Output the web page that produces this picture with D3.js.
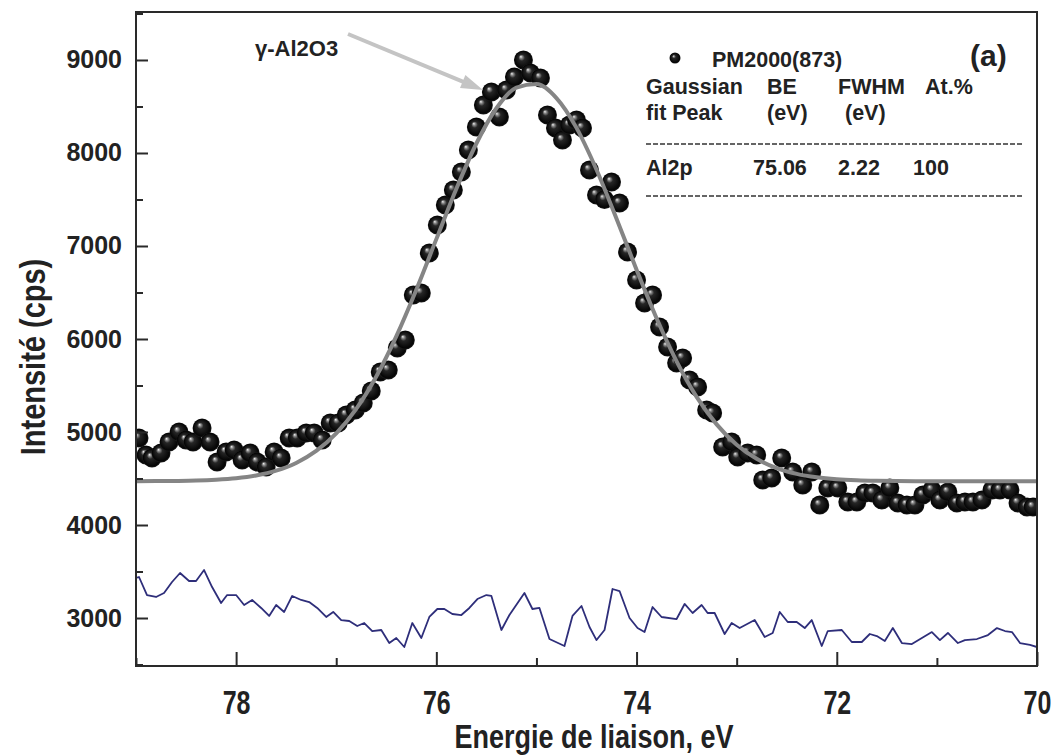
<!DOCTYPE html>
<html lang="fr">
<head>
<meta charset="UTF-8">
<title>Al2p - PM2000(873)</title>
<style>
  html, body { margin: 0; padding: 0; background: #fff; }
  svg { display: block; font-family: "Liberation Sans", Arial, sans-serif; }
  .axis path, .axis line { stroke: #2a2a2a; stroke-width: 2px; }
  .axis text { fill: #222; font-weight: bold; }
  .tbl { font-size: 21.5px; font-weight: bold; fill: #222; }
</style>
</head>
<body>
<svg width="1056" height="755"></svg>
<script src="https://d3js.org/d3.v7.min.js"></script>
<script>
// measured spectrum (dots)
const bindingEnergy = [
  78.97, 78.90, 78.84, 78.75, 78.67, 78.57, 78.50, 78.43, 78.34, 78.26,
  78.19, 78.10, 78.02, 77.94, 77.86, 77.79, 77.70, 77.62, 77.55, 77.47,
  77.39, 77.30, 77.22, 77.14, 77.06, 76.98, 76.90, 76.81, 76.73, 76.65,
  76.56, 76.48, 76.39, 76.31, 76.23, 76.15, 76.07, 75.99, 75.91, 75.83,
  75.75, 75.68, 75.60, 75.53, 75.45, 75.37, 75.30, 75.22, 75.13, 75.06,
  74.96, 74.89, 74.81, 74.74, 74.67, 74.60, 74.54, 74.47, 74.40, 74.32,
  74.25, 74.17, 74.09, 74.00, 73.92, 73.84, 73.77, 73.69, 73.60, 73.54,
  73.47, 73.39, 73.30, 73.24, 73.14, 73.05, 72.99, 72.89, 72.80, 72.74,
  72.65, 72.55, 72.44, 72.34, 72.25, 72.17, 72.09, 71.99, 71.89, 71.80,
  71.72, 71.64, 71.55, 71.47, 71.39, 71.30, 71.22, 71.14, 71.05, 70.97,
  70.89, 70.80, 70.72, 70.64, 70.55, 70.45, 70.37, 70.27, 70.19, 70.10, 70.04
];
const intensity = [
  4935, 4753, 4720, 4774, 4892, 5000, 4914, 4892, 5043, 4892,
  4677, 4785, 4806, 4699, 4774, 4677, 4624, 4785, 4720, 4935,
  4935, 4989, 4989, 4914, 5097, 5097, 5183, 5237, 5312, 5441,
  5645, 5667, 5903, 5989, 6473, 6495, 6925, 7226, 7441, 7602,
  7796, 8032, 8280, 8516, 8656, 8387, 8677, 8817, 9000, 8860,
  8806, 8409, 8269, 8140, 8300, 8355, 8269, 7817, 7548, 7500,
  7688, 7462, 6935, 6634, 6387, 6473, 6129, 5914, 5742, 5796,
  5560, 5484, 5237, 5204, 4839, 4892, 4731, 4774, 4753, 4484,
  4505, 4720, 4570, 4430, 4570, 4215, 4398, 4398, 4247, 4247,
  4344, 4344, 4269, 4398, 4237, 4215, 4215, 4323, 4376, 4269,
  4355, 4237, 4247, 4247, 4269, 4376, 4376, 4376, 4237, 4194, 4194
];

// gaussian fit curve (grey line)
const fitEnergy = [
  79.0, 78.8, 78.6, 78.4, 78.2, 78.0, 77.8, 77.6, 77.4, 77.2,
  77.0, 76.8, 76.6, 76.4, 76.2, 76.0, 75.8, 75.6, 75.4, 75.2,
  75.0, 74.8, 74.6, 74.4, 74.2, 74.0, 73.8, 73.6, 73.4, 73.2,
  73.0, 72.8, 72.6, 72.4, 72.2, 72.0, 71.8, 71.6, 71.4, 71.2,
  71.0, 70.8, 70.6, 70.4, 70.2, 70.0
];
const fitIntensity = [
  4471, 4472, 4474, 4478, 4487, 4503, 4533, 4584, 4667, 4796,
  4985, 5249, 5597, 6029, 6530, 7074, 7615, 8102, 8481, 8703,
  8741, 8590, 8270, 7820, 7294, 6745, 6223, 5760, 5378, 5082,
  4863, 4712, 4612, 4550, 4513, 4492, 4481, 4475, 4472, 4471,
  4470, 4470, 4470, 4470, 4470, 4470
];

// residual trace (blue line)
const residualEnergy = [
  79.00, 78.97, 78.89, 78.80, 78.72, 78.64, 78.56, 78.47, 78.40, 78.32,
  78.24, 78.15, 78.09, 78.00, 77.92, 77.84, 77.75, 77.67, 77.60, 77.52,
  77.44, 77.35, 77.27, 77.19, 77.10, 77.03, 76.95, 76.87, 76.79, 76.72,
  76.64, 76.55, 76.47, 76.40, 76.32, 76.24, 76.15, 76.07, 75.99, 75.92,
  75.84, 75.75, 75.67, 75.59, 75.50, 75.45, 75.35, 75.27, 75.12, 75.04,
  74.97, 74.87, 74.72, 74.64, 74.55, 74.47, 74.40, 74.32, 74.24, 74.17,
  74.07, 73.99, 73.92, 73.84, 73.75, 73.60, 73.52, 73.44, 73.35, 73.29,
  73.22, 73.12, 73.05, 72.97, 72.82, 72.72, 72.64, 72.57, 72.49, 72.40,
  72.32, 72.25, 72.15, 72.09, 71.95, 71.85, 71.75, 71.67, 71.60, 71.52,
  71.44, 71.35, 71.25, 71.15, 71.05, 70.97, 70.89, 70.79, 70.72, 70.60,
  70.49, 70.40, 70.32, 70.25, 70.17, 70.07, 70.00
];
const residual = [
  3430, 3441, 3247, 3226, 3269, 3387, 3484, 3398, 3398, 3516,
  3333, 3161, 3247, 3247, 3140, 3194, 3108, 3022, 3140, 3065,
  3237, 3194, 3172, 3108, 3011, 3065, 2978, 2968, 2914, 2946,
  2860, 2871, 2731, 2785, 2688, 2946, 2785, 3011, 3097, 3097,
  3043, 3032, 3108, 3204, 3247, 3237, 2871, 3032, 3269, 3097,
  3108, 2774, 2699, 3022, 3129, 2903, 2763, 2871, 3312, 3290,
  3000, 2892, 2849, 3118, 3011, 2989, 3151, 3054, 3140, 3054,
  3054, 2828, 2946, 2892, 2978, 2796, 2839, 3065, 2957, 2957,
  2892, 2978, 2699, 2860, 2871, 2742, 2742, 2828, 2806, 2753,
  2892, 2731, 2720, 2785, 2849, 2763, 2839, 2731, 2763, 2774,
  2817, 2892, 2860, 2849, 2731, 2710, 2688
];

const xTicks = [78, 76, 74, 72, 70];
const xMinorTicks = [79, 77, 75, 73, 71];
const yTicks = [3000, 4000, 5000, 6000, 7000, 8000, 9000];
const yMinorTicks = [2500, 3500, 4500, 5500, 6500, 7500, 8500, 9500];

const seriesName = "PM2000(873)";
const peakLabel = "γ-Al2O3";
const panelTag = "(a)";
const tableHead1 = ["Gaussian", "BE", "FWHM", "At.%"];
const tableHead2 = ["fit Peak", "(eV)", "(eV)"];
const tableRow = ["Al2p", "75.06", "2.22", "100"];

const svg = d3.select("svg");
const plotL = 136, plotR = 1037, plotT = 12, plotB = 666;

const x = d3.scaleLinear().domain([79, 70]).range([plotL, plotR]);
const y = d3.scaleLinear().domain([2484, 9516]).range([plotB, plotT]);

// sphere look for the markers
const defs = svg.append("defs");
const grad = defs.append("radialGradient")
    .attr("id", "ball")
    .attr("cx", "50%").attr("cy", "50%").attr("r", "50%")
    .attr("fx", "36%").attr("fy", "32%");
grad.append("stop").attr("offset", "0%").attr("stop-color", "#f2f2f2");
grad.append("stop").attr("offset", "14%").attr("stop-color", "#8c8c8c");
grad.append("stop").attr("offset", "34%").attr("stop-color", "#262626");
grad.append("stop").attr("offset", "88%").attr("stop-color", "#050505");
grad.append("stop").attr("offset", "100%").attr("stop-color", "#1c1c1c");

defs.append("clipPath").attr("id", "plotClip")
  .append("rect")
    .attr("x", plotL).attr("y", plotT)
    .attr("width", plotR - plotL).attr("height", plotB - plotT);

const plot = svg.append("g").attr("clip-path", "url(#plotClip)");

// residual
plot.append("path")
    .datum(d3.zip(residualEnergy, residual))
    .attr("fill", "none")
    .attr("stroke", "#2e2e7a")
    .attr("stroke-width", 1.8)
    .attr("stroke-linejoin", "round")
    .attr("d", d3.line().x(d => x(d[0])).y(d => y(d[1])));

// data points
plot.append("g")
  .selectAll("circle")
  .data(d3.zip(bindingEnergy, intensity))
  .join("circle")
    .attr("cx", d => x(d[0]))
    .attr("cy", d => y(d[1]))
    .attr("r", 9.5)
    .attr("fill", "url(#ball)");

// fit on top of the dots
plot.append("path")
    .datum(d3.zip(fitEnergy, fitIntensity))
    .attr("fill", "none")
    .attr("stroke", "#858585")
    .attr("stroke-width", 4)
    .attr("d", d3.line().curve(d3.curveMonotoneX).x(d => x(d[0])).y(d => y(d[1])));

// axes
const yAxis = svg.append("g")
    .attr("class", "axis")
    .attr("transform", `translate(${plotL},0)`)
    .call(d3.axisLeft(y).tickValues(yTicks).tickSize(-12).tickPadding(14).tickFormat(d3.format("d")));
yAxis.select(".domain").remove();
yAxis.selectAll("text").style("font-size", "25px");

svg.append("g")
    .attr("class", "axis")
    .attr("transform", `translate(${plotL},0)`)
    .call(d3.axisLeft(y).tickValues(yMinorTicks).tickSize(-7).tickFormat(""))
    .select(".domain").remove();

// x labels in the picture look tall and narrow, stretch them vertically
const xAxis = svg.append("g")
    .attr("class", "axis")
    .attr("transform", `translate(0,${plotB})`)
    .call(d3.axisBottom(x).tickValues(xTicks).tickSize(-14).tickFormat(d3.format("d")));
xAxis.select(".domain").remove();
xAxis.selectAll("text")
    .attr("y", 35.5).attr("dy", null)
    .attr("transform", "scale(1,1.35)")
    .style("font-size", "25px");

svg.append("g")
    .attr("class", "axis")
    .attr("transform", `translate(0,${plotB})`)
    .call(d3.axisBottom(x).tickValues(xMinorTicks).tickSize(-8).tickFormat(""))
    .select(".domain").remove();

// frame
svg.append("rect")
    .attr("x", plotL).attr("y", plotT)
    .attr("width", plotR - plotL).attr("height", plotB - plotT)
    .attr("fill", "none")
    .attr("stroke", "#2a2a2a")
    .attr("stroke-width", 2);

// axis titles
svg.append("text")
    .attr("transform", "translate(594,748) scale(1,1.25)")
    .attr("text-anchor", "middle")
    .style("font-size", "27px").style("font-weight", "bold").style("fill", "#222")
    .text("Energie de liaison, eV");

svg.append("text")
    .attr("transform", "translate(45,357) rotate(-90) scale(1,1.2)")
    .attr("text-anchor", "middle")
    .style("font-size", "29px").style("font-weight", "bold").style("fill", "#222")
    .text("Intensité (cps)");

// arrow pointing to the peak
const tail = [348, 34], tip = [483, 90];
const dx = tip[0] - tail[0], dy = tip[1] - tail[1], len = Math.hypot(dx, dy);
const ux = dx / len, uy = dy / len;
svg.append("line")
    .attr("x1", tail[0]).attr("y1", tail[1])
    .attr("x2", tip[0] - ux * 16).attr("y2", tip[1] - uy * 16)
    .attr("stroke", "#c4c4c4").attr("stroke-width", 4);
svg.append("path")
    .attr("d", `M${tip[0]},${tip[1]}L${tip[0] - ux * 22 - uy * 7},${tip[1] - uy * 22 + ux * 7}L${tip[0] - ux * 22 + uy * 7},${tip[1] - uy * 22 - ux * 7}Z`)
    .attr("fill", "#c4c4c4");

svg.append("text")
    .attr("x", 255).attr("y", 56)
    .style("font-size", "22px").style("font-weight", "bold").style("fill", "#222")
    .text(peakLabel);

// legend + fit table
svg.append("circle").attr("cx", 675).attr("cy", 58).attr("r", 5.5).attr("fill", "url(#ball)");
svg.append("text").attr("class", "tbl").attr("x", 712).attr("y", 67).text(seriesName);
svg.append("text")
    .attr("x", 970).attr("y", 66)
    .style("font-size", "30px").style("font-weight", "bold").style("fill", "#222")
    .text(panelTag);

const head1X = [646, 767, 838, 925];
const head2X = [646, 767, 845];
const rowX = [646, 753, 838, 913];
tableHead1.forEach((t, i) => svg.append("text").attr("class", "tbl").attr("x", head1X[i]).attr("y", 94).text(t));
tableHead2.forEach((t, i) => svg.append("text").attr("class", "tbl").attr("x", head2X[i]).attr("y", 120).text(t));
tableRow.forEach((t, i) => svg.append("text").attr("class", "tbl").attr("x", rowX[i]).attr("y", 175).text(t));

[144, 196].forEach(yy => svg.append("line")
    .attr("x1", 646).attr("x2", 1023).attr("y1", yy).attr("y2", yy)
    .attr("stroke", "#333").attr("stroke-width", 1.5)
    .attr("stroke-dasharray", "5,2"));
</script>
</body>
</html>
